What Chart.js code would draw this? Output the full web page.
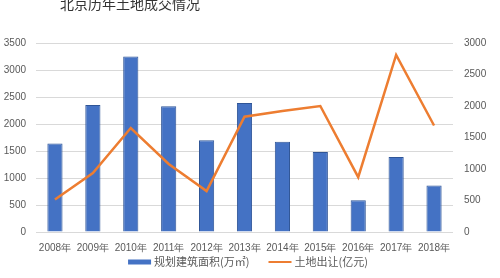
<!DOCTYPE html>
<html>
<head>
<meta charset="utf-8">
<script src="https://cdn.jsdelivr.net/npm/chart.js@4.4.1/dist/chart.umd.min.js"></script>
<style>
  html, body { margin: 0; padding: 0; background: #fff; }
  #wrap { width: 500px; height: 278px; }
</style>
</head>
<body>
<div id="wrap"><canvas id="landChart" width="500" height="278"></canvas></div>
<script>
const years = ['2008年', '2009年', '2010年', '2011年', '2012年', '2013年', '2014年', '2015年', '2016年', '2017年', '2018年'];
const floorArea = [1640, 2350, 3250, 2330, 1700, 2390, 1670, 1480, 590, 1390, 860];
const landRevenue = [515, 935, 1650, 1080, 650, 1830, 1920, 2000, 870, 2810, 1690];
const leftTicks = [0, 500, 1000, 1500, 2000, 2500, 3000, 3500];
const rightTicks = [0, 500, 1000, 1500, 2000, 2500, 3000];

const tickFont = { family: 'Arial, "Liberation Sans", sans-serif', size: 10 };
const cjkFont = '"Noto Sans CJK SC", sans-serif';

// title sits off-centre at the top left, legend is a flat bar + thin line -> draw both by hand
const extrasPlugin = {
    id: 'extras',
    afterDraw(chart) {
        const ctx = chart.ctx;
        ctx.save();
        ctx.font = '14px ' + cjkFont;
        ctx.fillStyle = '#333';
        ctx.textAlign = 'left';
        ctx.textBaseline = 'middle';
        ctx.fillText('北京历年土地成交情况', 60, 4);

        const items = chart.data.datasets.slice().reverse();
        ctx.font = '11px ' + cjkFont;
        const widths = items.map(d => ctx.measureText(d.label).width);
        const total = widths.reduce((a, b) => a + b, 0) + 2 * (23 + 3) + 19;
        let x = 248 - total / 2;
        const y = 262;
        items.forEach((d, i) => {
            if (d.type === 'bar') {
                ctx.fillStyle = d.backgroundColor;
                ctx.fillRect(x, y - 2.5, 23, 5);
            } else {
                ctx.strokeStyle = d.borderColor;
                ctx.lineWidth = 2;
                ctx.beginPath();
                ctx.moveTo(x, y);
                ctx.lineTo(x + 23, y);
                ctx.stroke();
            }
            ctx.fillStyle = '#595959';
            ctx.fillText(d.label, x + 26, y);
            x += 26 + widths[i] + 19;
        });
        ctx.restore();
    }
};

new Chart(document.getElementById('landChart'), {
    data: {
        labels: years,
        datasets: [
            {
                type: 'line',
                label: '土地出让(亿元)',
                data: landRevenue,
                yAxisID: 'y2',
                borderColor: '#ED7D31',
                backgroundColor: '#ED7D31',
                borderWidth: 2.5,
                tension: 0,
                pointRadius: 0,
                order: 0
            },
            {
                type: 'bar',
                label: '规划建筑面积(万㎡)',
                data: floorArea,
                yAxisID: 'y',
                backgroundColor: '#4472C4',
                borderColor: '#2F5597',
                borderWidth: 1,
                barPercentage: 0.4,
                categoryPercentage: 1,
                order: 1
            }
        ]
    },
    options: {
        responsive: false,
        animation: false,
        layout: { padding: { top: 43, left: 0, right: 0, bottom: 14 } },
        plugins: {
            legend: { display: false },
            tooltip: { enabled: false }
        },
        scales: {
            x: {
                grid: { display: false, drawTicks: false },
                border: { display: false },
                ticks: { color: '#595959', font: tickFont, maxRotation: 0, autoSkip: false, padding: 10 }
            },
            y: {
                position: 'left',
                min: 0,
                max: 3500,
                afterBuildTicks: s => { s.ticks = leftTicks.map(v => ({ value: v })); },
                afterFit: s => { s.width = 36; },
                grid: { color: '#d9d9d9', drawTicks: false },
                border: { display: false },
                ticks: { color: '#595959', font: tickFont, padding: 10, callback: v => String(v) }
            },
            y2: {
                position: 'right',
                min: 0,
                max: 3000,
                afterBuildTicks: s => { s.ticks = rightTicks.map(v => ({ value: v })); },
                afterFit: s => { s.width = 47; },
                grid: { display: false, drawTicks: false },
                border: { display: false },
                ticks: { color: '#595959', font: tickFont, padding: 11, callback: v => String(v) }
            }
        }
    },
    plugins: [extrasPlugin]
});
</script>
</body>
</html>
